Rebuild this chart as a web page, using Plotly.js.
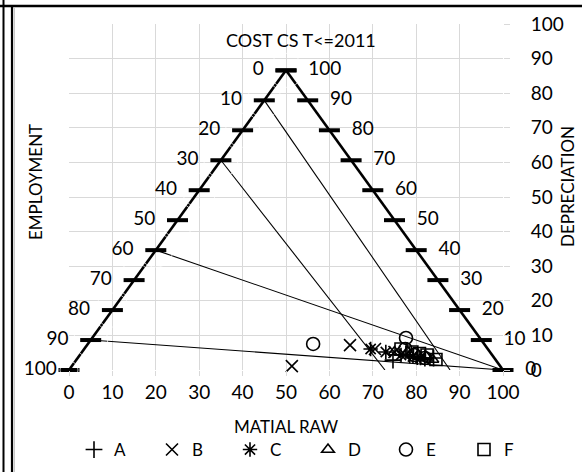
<!DOCTYPE html>
<html>
<head>
<meta charset="utf-8">
<script src="https://cdn.plot.ly/plotly-3.0.1.min.js"></script>
<style>html,body{margin:0;padding:0;background:#fff;}#chart{width:582px;height:472px;}</style>
</head>
<body>
<div id="chart"></div>
<script>
// ---- Data (ternary compositions: raw material, employment, depreciation, in %) ----
var tickValues = [0, 10, 20, 30, 40, 50, 60, 70, 80, 90, 100];

var seriesNames = ['A', 'B', 'C', 'D', 'E', 'F'];
var rawA = [73.0, 76.0, 78.0, 80.0, 82.0];
var empA = [23.7, 19.0, 17.5, 16.0, 14.0];
var depA = [3.3, 5.0, 4.5, 4.0, 4.0];

var rawB = [50.7, 60.6, 67.0, 72.0, 75.0];
var empB = [48.0, 31.1, 26.0, 22.0, 20.0];
var depB = [1.3, 8.3, 7.0, 6.0, 5.0];

var rawC = [66.0, 70.0, 74.0, 77.0, 79.0];
var empC = [27.0, 24.0, 21.0, 18.5, 17.0];
var depC = [7.0, 6.0, 5.0, 4.5, 4.0];

var rawD = [72.0, 75.0, 78.0, 80.0, 82.0];
var empD = [22.0, 19.0, 17.0, 15.5, 14.5];
var depD = [6.0, 6.0, 5.0, 4.5, 3.5];

var rawE = [51.9, 72.3, 74.0, 77.0, 80.0];
var empE = [39.4, 17.0, 19.0, 18.0, 16.0];
var depE = [8.7, 10.7, 7.0, 5.0, 4.0];

var rawF = [73.0, 76.0, 78.0, 80.0, 82.8];
var empF = [20.0, 18.0, 16.5, 15.0, 13.7];
var depF = [7.0, 6.0, 5.5, 5.0, 3.5];

// guide lines inside the triangle (start / end compositions)
var guideRawStart = [0, 0, 0, 0];
var guideEmpStart = [10, 30, 60, 90];
var guideDepStart = [90, 70, 40, 10];
var guideRawEnd = [87.8, 72.8, 100, 100];
var guideEmpEnd = [12.2, 27.2, 0, 0];
var guideDepEnd = [0, 0, 0, 0];

// ---- helpers ----
var H = Math.sqrt(3) / 2;
function tx(r, e, d) { return r + d / 2; }
function ty(r, e, d) { return d * H; }
function conv(R, E, D) {
  var xs = [], ys = [];
  for (var i = 0; i < R.length; i++) { xs.push(tx(R[i], E[i], D[i])); ys.push(ty(R[i], E[i], D[i])); }
  return {x: xs, y: ys};
}

var FONT = 'Lato, "Open Sans", "DejaVu Sans", sans-serif';
var traces = [];

// triangle sides (left: employment axis, right: depreciation axis)
var leftX = [], leftY = [], rightX = [], rightY = [];
tickValues.forEach(function (v) {
  leftX.push(tx(0, v, 100 - v)); leftY.push(ty(0, v, 100 - v));
  rightX.push(tx(100 - v, 0, v)); rightY.push(ty(100 - v, 0, v));
});

traces.push({x: leftX, y: leftY, mode: 'lines', line: {color: '#000', width: 2.6}, showlegend: false, hoverinfo: 'skip', cliponaxis: false});
traces.push({x: rightX, y: rightY, mode: 'lines', line: {color: '#000', width: 2.6}, showlegend: false, hoverinfo: 'skip', cliponaxis: false});

// guide lines
for (var g = 0; g < guideRawStart.length; g++) {
  traces.push({
    x: [tx(guideRawStart[g], guideEmpStart[g], guideDepStart[g]), tx(guideRawEnd[g], guideEmpEnd[g], guideDepEnd[g])],
    y: [ty(guideRawStart[g], guideEmpStart[g], guideDepStart[g]), ty(guideRawEnd[g], guideEmpEnd[g], guideDepEnd[g])],
    mode: 'lines', line: {color: '#000', width: 1.1}, showlegend: false, hoverinfo: 'skip'
  });
}

// tick bars
traces.push({x: leftX.concat(rightX), y: leftY.concat(rightY), mode: 'markers', cliponaxis: false,
  marker: {symbol: 'line-ew', size: 15, line: {color: '#000', width: 4}}, showlegend: false, hoverinfo: 'skip'});

// tick labels (label gap is controlled by an invisible marker size)
var leftGap = tickValues.map(function (v) { return v === 100 ? 18 : 34; });
traces.push({x: leftX, y: leftY, mode: 'markers+text', text: tickValues.map(String), textposition: 'middle left', cliponaxis: false,
  marker: {size: leftGap, color: 'rgba(0,0,0,0)'}, textfont: {family: FONT, size: 19, color: '#000'}, showlegend: false, hoverinfo: 'skip'});
traces.push({x: rightX, y: rightY, mode: 'markers+text', text: tickValues.map(String), textposition: 'middle right', cliponaxis: false,
  marker: {size: 34, color: 'rgba(0,0,0,0)'}, textfont: {family: FONT, size: 19, color: '#000'}, showlegend: false, hoverinfo: 'skip'});

// data series
var raws = [rawA, rawB, rawC, rawD, rawE, rawF];
var emps = [empA, empB, empC, empD, empE, empF];
var deps = [depA, depB, depC, depD, depE, depF];
var symbols = ['cross-thin-open', 'x-thin-open', 'asterisk-open', 'triangle-up-open', 'circle-open', 'square-open'];
var sizes = [12, 12, 12, 11, 13, 12];
for (var s = 0; s < seriesNames.length; s++) {
  var p = conv(raws[s], emps[s], deps[s]);
  traces.push({x: p.x, y: p.y, name: seriesNames[s], mode: 'markers', type: 'scatter', cliponaxis: false,
    marker: {symbol: symbols[s], size: sizes[s], color: '#000', line: {color: '#000', width: 1.6}}});
}

var px = function (v) { return (v - 69) / 434; };
var py = function (v) { return (370 - v) / 346; };

var layout = {
  width: 582, height: 472,
  margin: {l: 69, r: 79, t: 24, b: 102, autoexpand: false},
  paper_bgcolor: '#fff', plot_bgcolor: '#fff',
  font: {family: FONT, color: '#000'},
  showlegend: true,
  legend: {orientation: 'h', x: px(542), xanchor: 'right', y: py(450), yanchor: 'middle',
    entrywidth: 33, entrywidthmode: 'pixels', font: {family: FONT, size: 17, color: '#000'},
    itemwidth: 30, traceorder: 'normal', tracegroupgap: 0, bgcolor: 'rgba(0,0,0,0)'},
  xaxis: {range: [0, 100], dtick: 10, tick0: 0, showgrid: true, gridcolor: '#d9d9d9', gridwidth: 1,
    zeroline: false, showline: false, ticks: 'outside', ticklen: 5, tickcolor: '#d9d9d9',
    tickfont: {family: FONT, size: 19, color: '#000'}, fixedrange: true, automargin: false,
    title: {text: 'MATIAL RAW', font: {family: FONT, size: 17, color: '#000'}, standoff: 19}},
  yaxis: {range: [0, 100], dtick: 10, tick0: 0, side: 'right', showgrid: true, gridcolor: '#d9d9d9', gridwidth: 1,
    zeroline: false, showline: false, ticks: 'outside', ticklen: 6, tickcolor: '#d9d9d9', ticklabelstandoff: 17,
    tickfont: {family: FONT, size: 19, color: '#000'}, fixedrange: true, automargin: false},
  annotations: [
    {text: 'COST CS T&lt;=2011', xref: 'paper', yref: 'paper', x: px(301), y: py(40), xanchor: 'center', yanchor: 'middle',
      showarrow: false, font: {family: FONT, size: 18, color: '#000'}},
    {text: 'EMPLOYMENT', xref: 'paper', yref: 'paper', x: px(35), y: py(182), xanchor: 'center', yanchor: 'middle',
      showarrow: false, textangle: -90, font: {family: FONT, size: 17, color: '#000'}},
    {text: 'DEPRECIATION', xref: 'paper', yref: 'paper', x: px(567), y: py(187), xanchor: 'center', yanchor: 'middle',
      showarrow: false, textangle: -90, font: {family: FONT, size: 17, color: '#000'}}
  ],
  shapes: [
    {type: 'line', xref: 'paper', yref: 'paper', x0: px(0), x1: px(582), y0: py(6), y1: py(6), line: {color: '#000', width: 2.5}},
    {type: 'line', xref: 'paper', yref: 'paper', x0: px(3.5), x1: px(3.5), y0: py(0), y1: py(472), line: {color: '#000', width: 2}},
    {type: 'line', xref: 'paper', yref: 'paper', x0: px(12), x1: px(12), y0: py(7), y1: py(472), line: {color: '#000', width: 2.2}},
    {type: 'line', xref: 'paper', yref: 'paper', x0: px(14.3), x1: px(14.3), y0: py(8), y1: py(472), line: {color: '#c8c8c8', width: 1.4}}
  ]
};

Plotly.newPlot('chart', traces, layout, {displayModeBar: false, staticPlot: true});
</script>
</body>
</html>
